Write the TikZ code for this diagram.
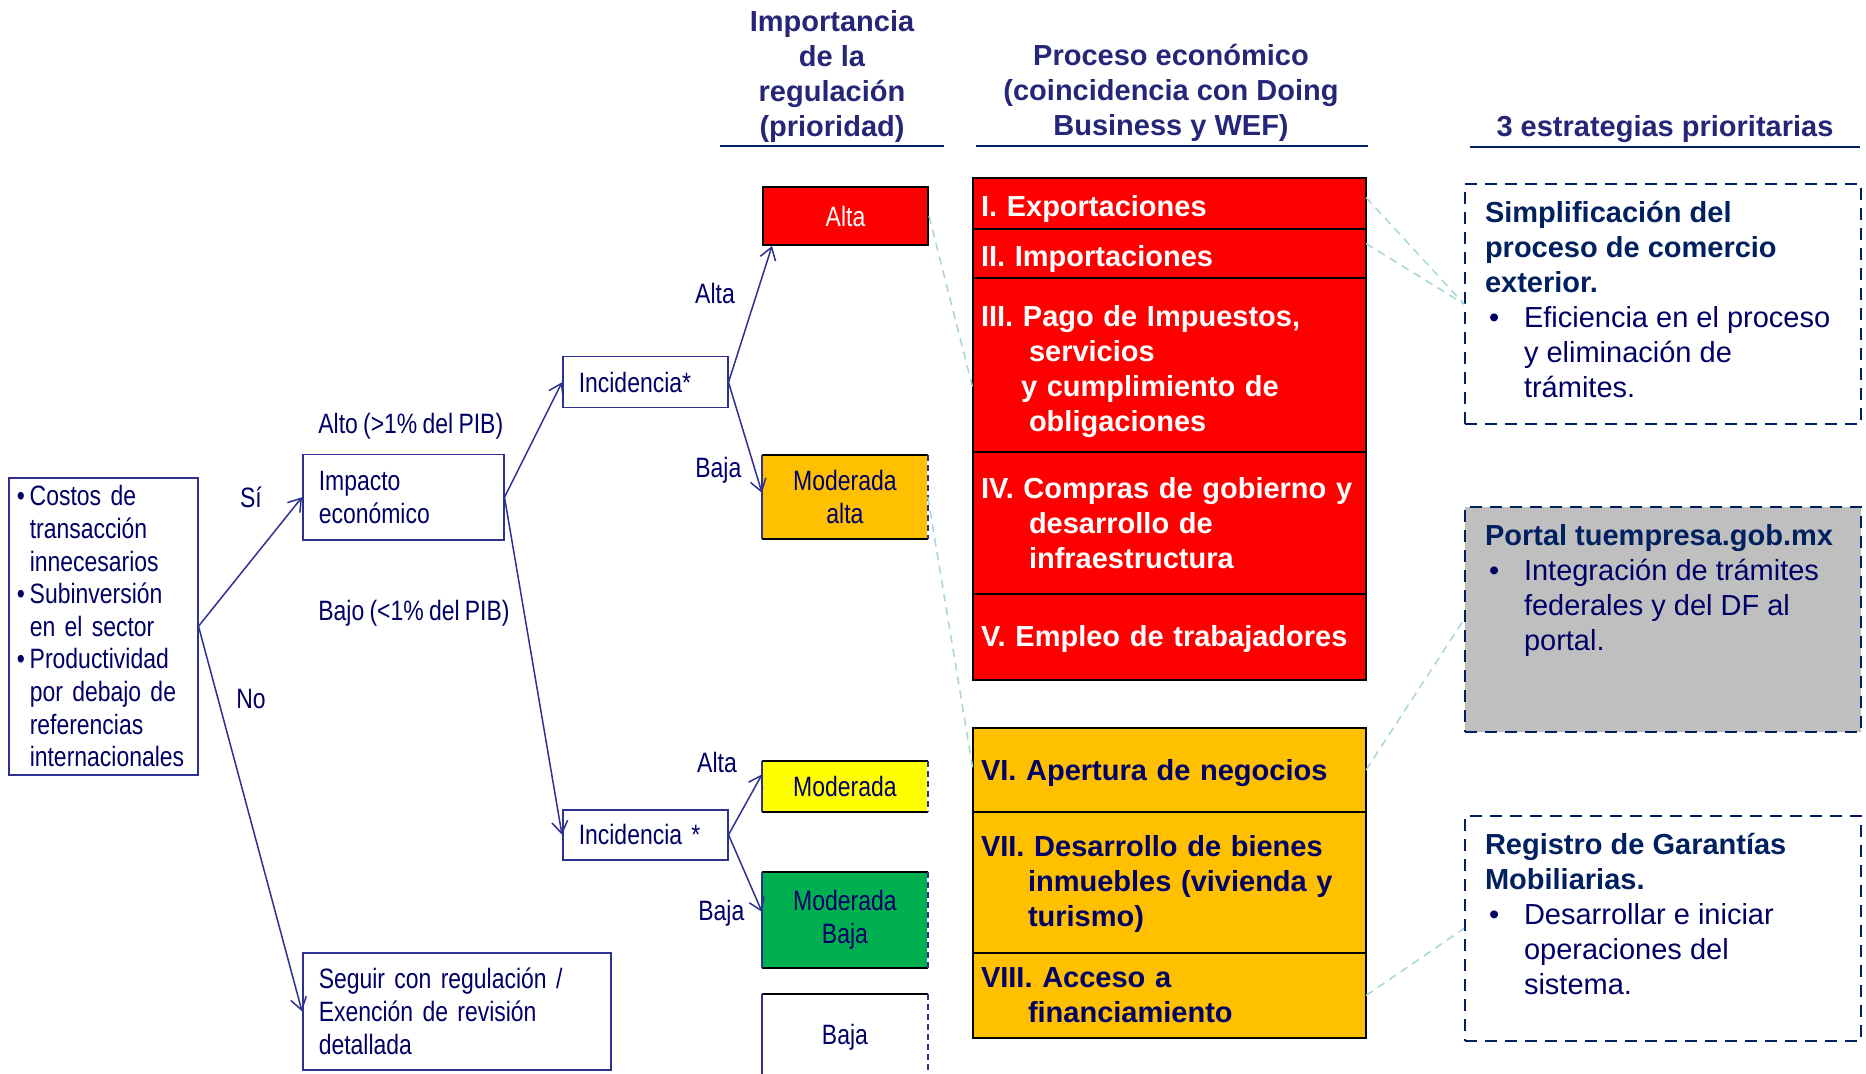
\documentclass[tikz,border=0pt]{standalone}
\usepackage{fontspec}
\setmainfont{Liberation Sans}
\newfontfamily\narrowFont[FakeStretch=0.82, WordSpace=0.82]{Liberation Sans}
\usepackage{xcolor}
\definecolor{navyText}{RGB}{0,0,102}
\definecolor{hdrBlue}{RGB}{38,38,120}
\definecolor{lineBlue}{RGB}{46,49,146}
\definecolor{dashNavy}{RGB}{0,32,96}
\definecolor{altaRed}{RGB}{255,0,0}
\definecolor{modOrange}{RGB}{255,192,0}
\definecolor{modYellow}{RGB}{255,255,0}
\definecolor{modGreen}{RGB}{0,176,80}
\definecolor{portalGray}{RGB}{191,191,191}
\definecolor{linkCyan}{RGB}{166,214,218}
\usetikzlibrary{arrows.meta}
\newcommand{\leftBullet}{\makebox[6.5pt][l]{\textbullet}}
\newcommand{\stratBullet}{\makebox[19.5pt][l]{\hspace{2pt}\textbullet}}
\newcommand{\stratHead}[1]{{\color{dashNavy}\bfseries #1}}
\newcommand{\rowPad}[1]{\rule{0pt}{#1}}

\begin{document}
\begin{tikzpicture}[x=0.5pt, y=-0.5pt,
		narrow/.style={font=\narrowFont\fontsize{14}{16.3}\selectfont, text=navyText},
		box/.style={narrow, draw=lineBlue, line width=0.75pt, anchor=north west, inner xsep=8pt, inner ysep=0pt, align=left},
		lbl/.style={narrow, inner sep=0pt},
		prio/.style={narrow, anchor=north west, minimum width=82.5pt, inner sep=0pt, align=center},
		row/.style={draw=black, line width=1pt, anchor=north west, outer sep=0pt, inner xsep=4pt, inner ysep=0pt, text width=188.5pt, align=left, font=\bfseries\fontsize{14.5}{17.5}\selectfont},
		strat/.style={draw=dashNavy, line width=1pt, dash pattern=on 6pt off 4pt, anchor=north west, inner xsep=10pt, inner ysep=7pt, text=navyText, font=\fontsize{14.5}{17.5}\selectfont},
		hdr/.style={align=center, text=hdrBlue, font=\bfseries\fontsize{14.5}{17.5}\selectfont},
		arr/.style={lineBlue, line width=0.75pt, -{Straight Barb[length=6pt,width=8pt]}},
		link/.style={linkCyan, line width=0.75pt, dash pattern=on 4pt off 3pt}]
			\useasboundingbox (0,0) rectangle (1866,1074);
			\fill[white] (0,0) rectangle (1866,1074);

			% Column headers
			\node[hdr] (hdrPrio) at (832,77) {Importancia\\de la\\regulación\\(prioridad)};
			\node[hdr] (hdrProc) at (1171,93) {Proceso económico\\(coincidencia con Doing\\Business y WEF)};
			\node[hdr, anchor=base] (hdrStrat) at (1665,137) {3 estrategias prioritarias};
			\draw[dashNavy, line width=1pt] (720,146) -- (944,146);
			\draw[dashNavy, line width=1pt] (976,146) -- (1368,146);
			\draw[dashNavy, line width=1pt] (1470,147) -- (1860,147);

			% Decision tree
			\node[box, inner xsep=4pt, text width=86.5pt, minimum height=148.5pt] (costos) at (8,477) {\leftBullet Costos de\\\hspace*{6.5pt}transacción\\\hspace*{6.5pt}innecesarios\\\leftBullet Subinversión\\\hspace*{6.5pt}en el sector\\\leftBullet Productividad\\\hspace*{6.5pt}por debajo de\\\hspace*{6.5pt}referencias\\\hspace*{6.5pt}internacionales};
			\node[box, text width=84.5pt, minimum height=42.5pt] (impacto) at (302,454) {Impacto\\económico};
			\node[box, text width=138pt, minimum height=58.5pt] (seguir) at (302,952) {Seguir con regulación /\\Exención de revisión\\detallada};
			\node[box, text width=66.5pt, minimum height=25.5pt] (inc1) at (562,356) {Incidencia*};
			\node[box, text width=66.5pt, minimum height=25pt] (inc2) at (562,809) {Incidencia *};

			% Branch labels
			\node[lbl] (si) at (251,497) {Sí};
			\node[lbl] (no) at (251,699) {No};
			\node[lbl, anchor=west] (alto) at (318,426) {Alto (>1\% del PIB)};
			\node[lbl, anchor=west] (bajo) at (318,613) {Bajo (<1\% del PIB)};
			\node[lbl] (incAltaA) at (715,293) {Alta};
			\node[lbl, anchor=west] (incBajaA) at (695,470) {Baja};
			\node[lbl] (incAltaB) at (717,762) {Alta};
			\node[lbl, anchor=west] (incBajaB) at (698,913) {Baja};

			% Priority boxes
			\node[prio, fill=altaRed, text=white, draw=black, line width=1pt, minimum height=29pt] (alta) at (762,186) {Alta};
			\node[prio, fill=modOrange, minimum height=41.5pt] (modalta) at (762,455) {Moderada\\alta};
			\node[prio, fill=modYellow, minimum height=25pt] (moder) at (762,761) {Moderada};
			\node[prio, fill=modGreen, minimum height=47.5pt] (modbaja) at (762,872) {Moderada\\Baja};
			\node[prio, minimum height=43pt] (baja) at (762,994) {Baja};
			\foreach \p in {modalta,moder,modbaja,baja} {
				\draw[black, line width=1pt] (\p.north west) -- (\p.north east) (\p.south west) -- (\p.south east);
				\draw[lineBlue, line width=0.75pt] (\p.north west) -- (\p.south west);
				\draw[lineBlue, line width=0.75pt, densely dashed] (\p.north east) -- (\p.south east);
			}

			% Economic processes
			\node[row, fill=altaRed, text=white, minimum height=25.5pt] (r1) at (973,178) {\rowPad{16pt}I. Exportaciones};
			\node[row, fill=altaRed, text=white, minimum height=24.5pt] (r2) at (r1.south west) {\rowPad{16pt}II. Importaciones};
			\node[row, fill=altaRed, text=white, minimum height=87pt] (r3) at (r2.south west) {\rowPad{17pt}III. Pago de Impuestos,\\\hspace*{24pt}servicios\\\hspace*{20pt}y cumplimiento de\\\hspace*{24pt}obligaciones};
			\node[row, fill=altaRed, text=white, minimum height=71pt] (r4) at (r3.south west) {IV. Compras de gobierno y\\\hspace*{24pt}desarrollo de\\\hspace*{24pt}infraestructura};
			\node[row, fill=altaRed, text=white, minimum height=43pt] (r5) at (r4.south west) {\rowPad{13pt}V. Empleo de trabajadores};
			\node[row, fill=modOrange, text=navyText, minimum height=42pt] (r6) at (973,728) {\rowPad{13.5pt}VI. Apertura de negocios};
			\node[row, fill=modOrange, text=navyText, minimum height=70.5pt] (r7) at (r6.south west) {\rowPad{12.5pt}VII. Desarrollo de bienes\\\hspace*{23.5pt}inmuebles (vivienda y\\\hspace*{23.5pt}turismo)};
			\node[row, fill=modOrange, text=navyText, minimum height=42.5pt] (r8) at (r7.south west) {VIII. Acceso a\\\hspace*{23.5pt}financiamiento};

			% Strategies
			\node[strat] (simp) at (1464,183) {\parbox[c][106pt][t]{178pt}{\raggedright\strut\stratHead{Simplificación del}\\\stratHead{proceso de comercio}\\\stratHead{exterior.}\\\stratBullet Eficiencia en el proceso\\\hspace*{19.5pt}y eliminación de\\\hspace*{19.5pt}trámites.}};
			\node[strat, fill=portalGray] (portal) at (1464,506) {\parbox[c][98.5pt][t]{178pt}{\raggedright\strut\stratHead{Portal tuempresa.gob.mx}\\\stratBullet Integración de trámites\\\hspace*{19.5pt}federales y del DF al\\\hspace*{19.5pt}portal.}};
			\node[strat] (registro) at (1464,815) {\parbox[c][98.5pt][t]{178pt}{\raggedright\strut\stratHead{Registro de Garantías}\\\stratHead{Mobiliarias.}\\\stratBullet Desarrollar e iniciar\\\hspace*{19.5pt}operaciones del\\\hspace*{19.5pt}sistema.}};

			% Tree arrows
			\draw[arr] (costos.east) -- (impacto.west);
			\draw[arr] (costos.east) -- (seguir.west);
			\draw[arr] (impacto.east) -- (inc1.west);
			\draw[arr] (impacto.east) -- (inc2.west);
			\draw[arr] (inc1.east) -- ([xshift=5pt]alta.south west);
			\draw[arr] (inc1.east) -- ([yshift=2pt]modalta.west);
			\draw[arr] (inc2.east) -- ([yshift=6pt]moder.west);
			\draw[arr] (inc2.east) -- ([yshift=4pt]modbaja.west);

			% Dashed links
			\draw[link] (alta.east) -- ([yshift=-12pt]r3.west);
			\draw[link] (modalta.east) -- (r6.west);
			\draw[link] ([yshift=3pt]r1.east) -- (simp.west);
			\draw[link] ([yshift=5pt]r2.east) -- (simp.west);
			\draw[link] (r6.east) -- (portal.west);
			\draw[link] (r8.east) -- (registro.west);
		\end{tikzpicture}
\end{document}
